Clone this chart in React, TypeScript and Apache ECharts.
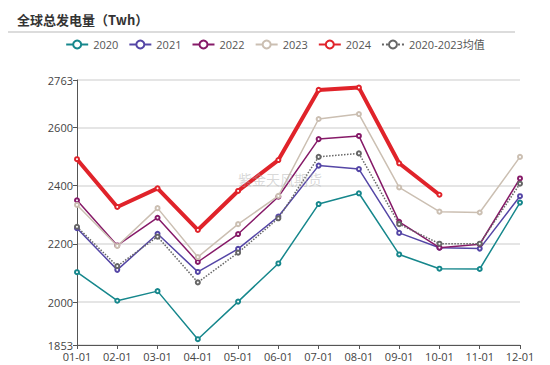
import React, { useEffect, useRef } from "react";
import * as echarts from "echarts";

const categories = ["01-01","02-01","03-01","04-01","05-01","06-01","07-01","08-01","09-01","10-01","11-01","12-01"];
const yTicks = [1853, 2000, 2200, 2400, 2600, 2763];

const s2020 = [2103, 2005, 2038, 1873, 2002, 2133, 2337, 2374, 2164, 2115, 2114, 2342];
const s2021 = [2254, 2111, 2235, 2104, 2183, 2294, 2469, 2457, 2238, 2187, 2184, 2364];
const s2022 = [2350, 2195, 2290, 2138, 2234, 2362, 2560, 2571, 2276, 2187, 2199, 2425];
const s2023 = [2334, 2193, 2323, 2155, 2268, 2365, 2629, 2646, 2394, 2311, 2308, 2499];
const s2024 = [2491, 2327, 2391, 2248, 2382, 2488, 2729, 2737, 2477, 2369];
const sAvg = [2259, 2124, 2225, 2068, 2170, 2288, 2499, 2511, 2268, 2201, 2201, 2407];

const names = ["2020", "2021", "2022", "2023", "2024", "2020-2023均值"];
const colors = ["#16878c", "#5546a6", "#861a68", "#cbbfb2", "#e0232a", "#666666"];

export default function App() {
  const ref = useRef<HTMLDivElement>(null);
  useEffect(() => {
    if (!ref.current) return;
    const chart = echarts.init(ref.current, null, { renderer: "svg" });
    const datas = [s2020, s2021, s2022, s2023, s2024, sAvg];
    const series = datas.map((d, i) => ({
      name: names[i],
      type: "line",
      data: d,
      symbol: "emptyCircle",
      symbolSize: 4,
      showSymbol: true,
      z: i === 4 ? 10 : 2 + i,
      itemStyle: { color: colors[i], borderWidth: 1 },
      lineStyle: {
        color: colors[i],
        width: i === 4 ? 4 : 1.5,
        type: i === 5 ? "dotted" : "solid",
      },
    }));
    chart.setOption({
      animation: false,
      color: colors,
      textStyle: { fontFamily: "Open Sans, Noto Sans, sans-serif" },
      title: {
        text: "全球总发电量（Twh）",
        left: 12,
        top: 8,
        textStyle: { fontFamily: "Noto Sans CJK SC", fontWeight: "bold", fontSize: 13, color: "#333" },
      },
      graphic: [
        { type: "line", shape: { x1: 8, y1: 32, x2: 515, y2: 32 }, style: { stroke: "#d0d0d0", lineWidth: 1.5 } },
        {
          type: "text", x: 238, y: 172, z: 100,
          style: { text: "紫金天风期货", fontSize: 14, fill: "rgba(170,170,170,0.45)", fontFamily: "Noto Sans CJK SC" },
        },
      ],
      legend: {
        top: 34,
        left: "center",
        itemWidth: 22,
        itemHeight: 10,
        itemGap: 10,
        textStyle: { fontSize: 11, color: "#555", fontFamily: "Open Sans, Noto Sans CJK SC, sans-serif" },
        data: names,
      },
      grid: { left: 77, right: 30, top: 80, bottom: 20 },
      xAxis: {
        type: "category",
        data: categories,
        boundaryGap: false,
        axisLine: { lineStyle: { color: "#555" } },
        axisTick: { alignWithLabel: true, lineStyle: { color: "#555" }, length: 4 },
        axisLabel: { fontSize: 11, color: "#444", margin: 6 },
      },
      yAxis: {
        type: "value",
        min: 1853,
        max: 2763,
        axisLine: { show: true, lineStyle: { color: "#555" } },
        axisTick: { show: true, length: 4, lineStyle: { color: "#555" }, customValues: yTicks },
        axisLabel: {
          fontSize: 11, color: "#444", margin: 4, customValues: yTicks,
          formatter: (v: number) => String(v),
        },
        splitLine: { show: true, lineStyle: { color: "#dddddd", width: 1.5 } },
      },
      series,
    });
    return () => chart.dispose();
  }, []);
  return <div ref={ref} style={{ position: "fixed", left: 0, top: 0, width: 550, height: 365, background: "#fff" }} />;
}
